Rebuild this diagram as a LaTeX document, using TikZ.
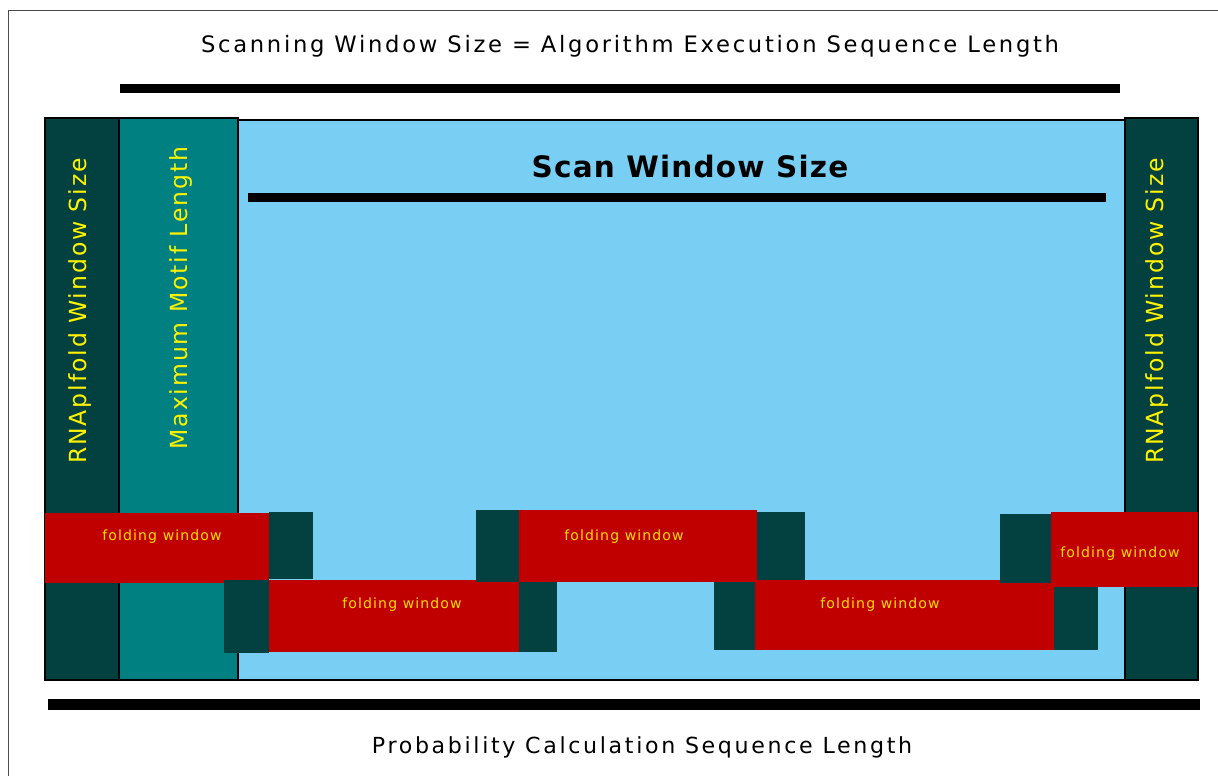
\documentclass[tikz,border=0pt]{standalone}
\usepackage{fontspec}
\setmainfont{DejaVu Sans}
\newfontfamily\spacedfont[LetterSpace=12]{DejaVu Sans}
\newfontfamily\labelfont[LetterSpace=8]{DejaVu Sans}

\definecolor{darkteal}{RGB}{3,64,64}
\definecolor{midteal}{RGB}{0,128,128}
\definecolor{skyblue}{RGB}{120,206,243}
\definecolor{foldred}{RGB}{192,0,0}
\definecolor{foldtext}{RGB}{255,221,0}

\tikzset{
    column/.style={draw=black, line width=0.6pt},
    bar/.style={fill=black},
    foldbox/.style={fill=foldred},
    hinge/.style={fill=darkteal},
    lengthlabel/.style={font=\spacedfont\fontsize{12.9}{15}\selectfont},
    vlabel/.style={rotate=90, text=yellow, font=\labelfont\fontsize{13.4}{15}\selectfont},
    foldlabel/.style={text=foldtext, font=\labelfont\fontsize{8}{9}\selectfont},
}

\begin{document}
\begin{tikzpicture}[x=0.02cm, y=-0.02cm]

\useasboundingbox (0,0) rectangle (1218,776);

% =============================================================================
% Frame and outer lengths
% =============================================================================
\draw[black!70, line width=0.6pt] (8.5,776) -- (8.5,10.5) -- (1218,10.5);

\node[lengthlabel] (scanning) at (630,46.5)
    {Scanning Window Size = Algorithm Execution Sequence Length};
\fill[bar] (120,84.5) rectangle (1120,93.5);

\fill[bar] (48,699) rectangle (1200,710);
\node[lengthlabel, font=\spacedfont\fontsize{12.6}{15}\selectfont] (probability) at (642,747.5)
    {Probability Calculation Sequence Length};

% =============================================================================
% Columns of the scanned sequence
% =============================================================================
\filldraw[column, fill=skyblue] (238,120) rectangle (1125,680);
\filldraw[column, fill=darkteal] (45,118) rectangle (119,680);
\filldraw[column, fill=midteal] (119,118) rectangle (238,680);
\filldraw[column, fill=darkteal] (1125,118) rectangle (1198,680);

\node[vlabel] (leftwin) at (80,311) {RNAplfold Window Size};
\node[vlabel] (motif) at (181,298) {Maximum Motif Length};
\node[vlabel] (rightwin) at (1157,311) {RNAplfold Window Size};

% Scan window
\node (scan) at (690,167)
    {\addfontfeatures{LetterSpace=4}\bfseries\fontsize{16.8}{20}\selectfont Scan Window Size};
\fill[bar] (248,193) rectangle (1106,202);

% =============================================================================
% Folding windows
% =============================================================================
% first window
\fill[foldbox] (45,513) rectangle (269,583);
\fill[hinge] (269,512) rectangle (313,579);
\node[foldlabel] (fold1) at (162,537) {folding window};

% second window
\fill[hinge] (224,580) rectangle (269,653);
\fill[foldbox] (269,580) rectangle (519,652);
\fill[hinge] (519,582) rectangle (557,652);
\node[foldlabel] (fold2) at (402,605) {folding window};

% third window
\fill[hinge] (476,510) rectangle (519,582);
\fill[foldbox] (519,510) rectangle (757,582);
\fill[hinge] (757,512) rectangle (805,583);
\node[foldlabel] (fold3) at (624,537) {folding window};

% fourth window
\fill[hinge] (714,582) rectangle (755,650);
\fill[foldbox] (755,580) rectangle (1054,650);
\fill[hinge] (1054,582) rectangle (1098,650);
\node[foldlabel] (fold4) at (880,605) {folding window};

% fifth window
\fill[hinge] (1000,514) rectangle (1051,583);
\fill[foldbox] (1051,512) rectangle (1198,587);
\node[foldlabel] (fold5) at (1120,554) {folding window};

\end{tikzpicture}
\end{document}
